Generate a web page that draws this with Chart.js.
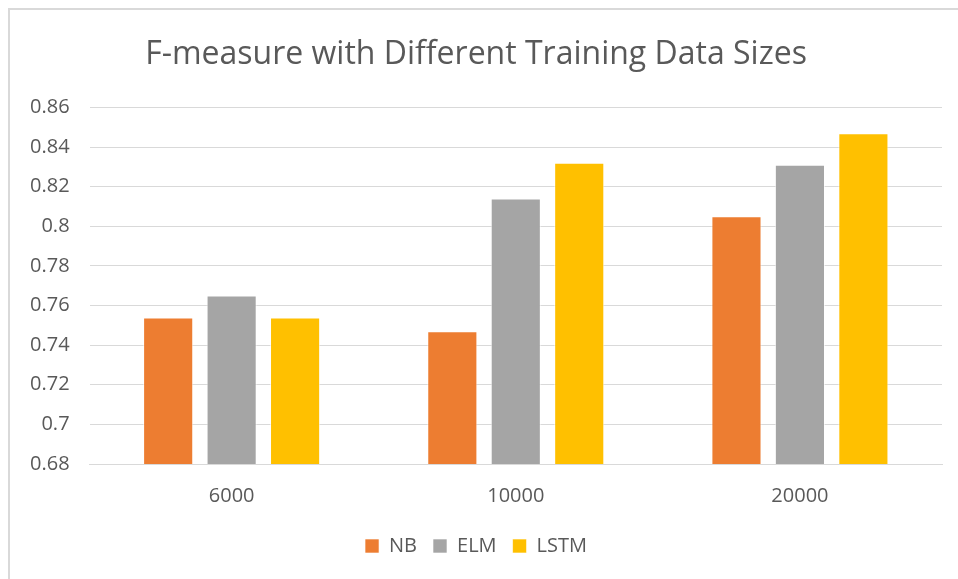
<!DOCTYPE html>
<html>
<head>
<meta charset="utf-8">
<script src="https://cdn.jsdelivr.net/npm/chart.js@4.4.1/dist/chart.umd.min.js"></script>
<style>
    html, body { margin: 0; padding: 0; background: #fff; }
    #frame {
        position: absolute; left: 8px; top: 8px;
        width: 950px; height: 571px;
        border-top: 2px solid #d9d9d9;
        border-left: 2px solid #d9d9d9;
    }
    #box { position: relative; width: 948px; height: 569px; }
</style>
</head>
<body>
<div id="frame"><div id="box"><canvas id="chart"></canvas></div></div>
<script>
"use strict";

const sizes = ["6000", "10000", "20000"];
const nbValues = [0.754, 0.747, 0.805];
const elmValues = [0.765, 0.814, 0.831];
const lstmValues = [0.754, 0.832, 0.847];
const yTicks = [0.68, 0.7, 0.72, 0.74, 0.76, 0.78, 0.8, 0.82, 0.84, 0.86];

const FONT = "'Open Sans', sans-serif";
const TEXT = "#595959";

function bar(label, data, color) {
    return {
        label: label,
        data: data,
        backgroundColor: color,
        borderColor: "rgba(255,255,255,0.6)",
        borderWidth: 1,
        categoryPercentage: 0.67,
        barPercentage: 0.79
    };
}

new Chart(document.getElementById("chart"), {
    type: "bar",
    data: {
        labels: sizes,
        datasets: [
            bar("NB", nbValues, "#ed7d31"),
            bar("ELM", elmValues, "#a5a5a5"),
            bar("LSTM", lstmValues, "#ffc000")
        ]
    },
    options: {
        responsive: true,
        maintainAspectRatio: false,
        animation: false,
        layout: { padding: { left: 0, right: 16, top: 0, bottom: 13 } },
        plugins: {
            title: {
                display: true,
                text: "F-measure with Different Training Data Sizes",
                color: TEXT,
                font: { family: FONT, size: 32, weight: "normal" },
                padding: { top: 26, bottom: 33 }
            },
            legend: {
                position: "bottom",
                labels: {
                    color: TEXT,
                    font: { family: FONT, size: 20 },
                    boxWidth: 14,
                    boxHeight: 14,
                    padding: 16
                }
            },
            tooltip: { enabled: false }
        },
        scales: {
            x: {
                grid: { display: false },
                border: { display: true, color: "#d9d9d9" },
                ticks: { color: TEXT, font: { family: FONT, size: 20 }, padding: 12 }
            },
            y: {
                min: 0.68,
                max: 0.86,
                afterBuildTicks: axis => { axis.ticks = yTicks.map(v => ({ value: v })); },
                grid: { color: "#d9d9d9", drawTicks: false },
                border: { display: false },
                ticks: {
                    color: TEXT,
                    font: { family: FONT, size: 20 },
                    padding: 20,
                    callback: v => String(+v.toFixed(2))
                }
            }
        }
    }
});
</script>
</body>
</html>
